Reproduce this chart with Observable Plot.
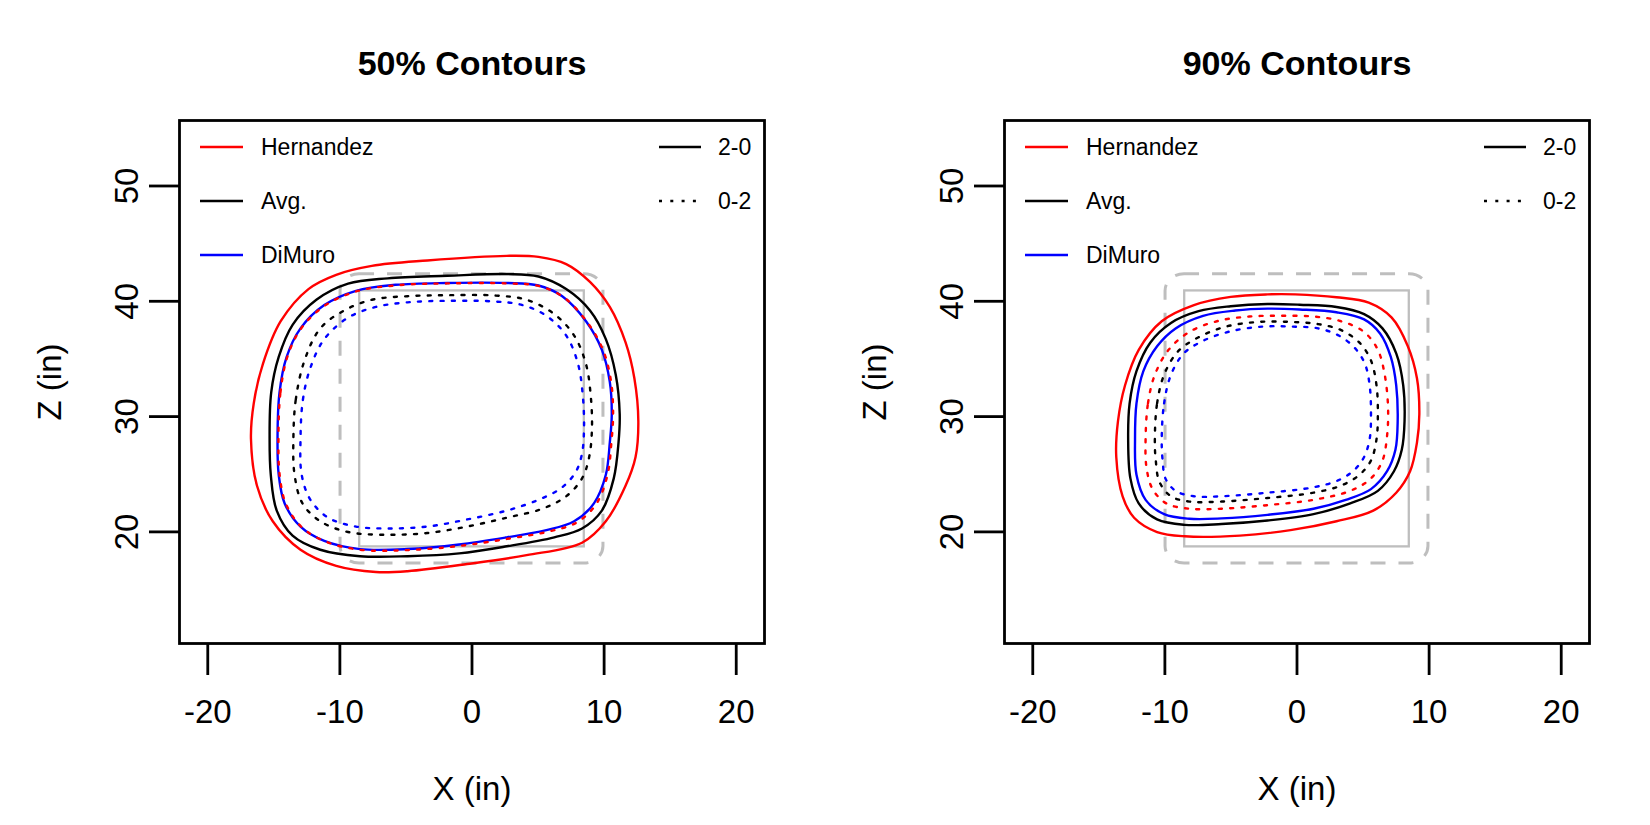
<!DOCTYPE html>
<html>
<head>
<meta charset="utf-8">
<script src="https://cdn.jsdelivr.net/npm/d3@7"></script>
<script src="https://cdn.jsdelivr.net/npm/@observablehq/plot@0.6"></script>
<style>
  html, body { margin: 0; padding: 0; background: #fff; }
  #wrap { display: flex; flex-direction: row; width: 1650px; height: 825px; }
  svg { font-family: "Liberation Sans", Arial, sans-serif; }
</style>
</head>
<body>
<div id="wrap"></div>
<script>
// ---------- data (inches; x = horizontal location, z = height) ----------
const panelTitles = ["50% Contours", "90% Contours"];
const pitchers = ["Hernandez", "Avg.", "DiMuro"];
const pitcherColors = ["#FF0000", "#000000", "#0000FF"];
const counts = ["2-0", "0-2"];
const xTicks = [-20, -10, 0, 10, 20];
const zTicks = [20, 30, 40, 50];
const xDomain = [-22.14, 22.14];
const zDomain = [10.32, 55.68];
const zoneX = [-8.5, 8.5];
const zoneZ = [18.7, 40.9];
const ballRadius = 1.45;

// 50% contours
const h50_20 = [[2.63,43.94],[5.03,43.85],[7.13,43.23],[8.93,41.68],[10.43,39.51],[11.63,36.41],[12.29,33.32],[12.59,29.60],[12.38,26.50],[11.63,24.02],[10.13,20.92],[8.33,19.06],[4.13,17.98],[-0.37,17.21],[-4.88,16.59],[-7.28,16.52],[-10.28,17.05],[-12.98,18.45],[-15.08,20.92],[-16.28,24.02],[-16.73,28.05],[-16.52,31.15],[-15.83,34.55],[-14.48,38.27],[-12.38,41.06],[-10.28,42.30],[-7.58,43.07],[-3.38,43.54]];
const a50_20 = [[-15.32,28.05],[-15.20,32.08],[-14.63,35.17],[-13.58,37.96],[-11.78,40.13],[-9.38,41.53],[-6.38,41.99],[-1.87,42.21],[2.63,42.36],[5.03,42.15],[7.13,41.06],[8.93,39.20],[10.13,36.72],[10.88,33.63],[11.18,30.22],[11.09,27.74],[10.73,24.64],[9.83,21.85],[8.33,20.30],[6.23,19.53],[2.63,18.75],[-0.97,18.14],[-4.88,17.89],[-8.48,17.89],[-11.48,18.45],[-13.58,19.68],[-14.78,21.85],[-15.23,24.95]];
const d50_20 = [[-14.72,28.05],[-14.57,32.08],[-14.03,35.17],[-12.98,37.65],[-11.18,39.67],[-8.78,40.91],[-5.78,41.43],[-1.87,41.59],[2.63,41.59],[5.03,41.37],[6.83,40.44],[8.63,38.27],[9.83,35.79],[10.43,33.01],[10.58,30.22],[10.43,27.74],[10.13,24.95],[9.23,22.47],[7.73,20.92],[5.63,20.15],[2.63,19.53],[-0.97,18.91],[-4.88,18.51],[-8.48,18.51],[-11.18,19.22],[-12.98,20.46],[-14.18,22.47],[-14.63,24.95]];
const h50_02 = [[-14.65,28.05],[-14.50,32.08],[-13.98,35.17],[-12.95,37.62],[-11.15,39.62],[-8.75,40.86],[-5.78,41.38],[-1.87,41.55],[2.63,41.55],[5.03,41.33],[6.88,40.40],[8.70,38.22],[9.93,35.75],[10.53,33.00],[10.68,30.22],[10.55,27.74],[10.25,24.90],[9.38,22.38],[7.90,20.80],[5.75,20.02],[2.70,19.40],[-0.97,18.78],[-4.88,18.42],[-8.48,18.45],[-11.12,19.18],[-12.92,20.44],[-14.10,22.47],[-14.56,24.95]];
const a50_02 = [[-13.52,28.05],[-13.34,31.46],[-12.68,34.86],[-11.48,37.65],[-9.68,39.20],[-7.58,40.13],[-4.88,40.44],[-1.87,40.53],[1.73,40.50],[4.13,40.13],[6.23,38.89],[7.73,37.03],[8.63,34.55],[8.99,31.77],[9.08,28.98],[8.87,26.50],[8.33,24.64],[7.13,23.09],[5.33,22.01],[2.63,21.23],[-0.37,20.46],[-3.38,19.90],[-6.38,19.75],[-9.38,19.99],[-11.48,20.92],[-12.83,22.47],[-13.43,24.95]];
const d50_02 = [[-12.98,28.05],[-12.80,31.46],[-12.23,34.24],[-11.18,36.72],[-9.38,38.58],[-7.28,39.51],[-4.88,39.91],[-1.87,40.04],[1.73,39.98],[3.83,39.67],[5.63,38.74],[7.13,37.03],[8.03,34.55],[8.39,31.77],[8.48,28.98],[8.33,26.81],[7.88,25.26],[6.83,23.87],[5.03,22.78],[2.63,21.85],[-0.37,21.08],[-3.38,20.46],[-6.38,20.30],[-8.78,20.46],[-10.88,21.23],[-12.23,22.78],[-12.89,24.95]];

// 90% contours
const h90_20 = [[-13.68,26.50],[-13.55,29.60],[-13.02,32.70],[-11.98,35.79],[-10.24,38.27],[-7.80,39.67],[-5.02,40.38],[-2.23,40.60],[-0.14,40.60],[2.99,40.35],[5.43,39.88],[7.17,38.58],[8.39,36.10],[9.08,33.32],[9.26,30.22],[9.08,27.74],[8.56,25.26],[7.51,23.40],[5.77,21.85],[2.99,20.92],[-0.49,20.15],[-4.32,19.68],[-8.50,19.62],[-10.59,19.99],[-12.33,21.23],[-13.20,23.09]];
const a90_20 = [[-12.78,28.05],[-12.67,31.15],[-12.15,33.94],[-11.11,36.41],[-9.54,38.12],[-7.45,39.14],[-5.02,39.57],[-2.23,39.76],[0.20,39.70],[2.99,39.51],[5.08,38.89],[6.47,37.65],[7.51,35.48],[8.04,32.70],[8.14,29.60],[7.93,27.12],[7.34,25.26],[6.12,23.56],[4.03,22.47],[1.25,21.54],[-2.23,20.99],[-5.71,20.68],[-8.50,20.61],[-10.59,21.08],[-11.98,22.47],[-12.61,24.64]];
const d90_20 = [[-12.26,28.05],[-12.15,31.15],[-11.63,33.94],[-10.59,36.10],[-9.19,37.65],[-7.11,38.74],[-4.67,39.20],[-2.23,39.36],[0.20,39.29],[2.99,39.05],[5.08,38.43],[6.30,37.19],[7.10,35.17],[7.51,32.70],[7.62,29.60],[7.45,27.12],[6.82,25.26],[5.60,23.71],[3.69,22.78],[1.25,22.01],[-2.23,21.48],[-5.71,21.17],[-8.15,21.14],[-10.06,21.54],[-11.46,22.78],[-12.15,24.95]];
const h90_02 = [[-11.46,28.05],[-11.28,31.15],[-10.76,33.63],[-9.72,35.79],[-8.15,37.34],[-6.06,38.27],[-3.62,38.68],[-1.19,38.74],[1.25,38.68],[3.34,38.27],[5.08,37.34],[6.12,35.79],[6.64,33.63],[6.89,30.84],[6.82,28.36],[6.47,26.19],[5.60,24.64],[4.03,23.56],[1.25,22.78],[-2.23,22.32],[-5.71,22.01],[-8.15,22.01],[-9.89,22.47],[-10.93,23.71],[-11.39,25.57]];
const a90_02 = [[-10.76,28.05],[-10.59,31.15],[-10.06,33.63],[-9.02,35.64],[-7.45,36.88],[-5.36,37.81],[-2.93,38.21],[-0.49,38.21],[1.60,38.02],[3.34,37.50],[4.73,36.41],[5.60,34.86],[6.02,32.70],[6.12,30.22],[6.02,28.05],[5.60,26.19],[4.73,24.95],[3.34,24.02],[1.25,23.40],[-2.23,22.94],[-5.71,22.63],[-8.15,22.63],[-9.54,23.09],[-10.41,24.33],[-10.69,26.19]];
const d90_02 = [[-10.24,28.05],[-10.06,31.15],[-9.54,33.63],[-8.57,35.48],[-7.11,36.57],[-5.02,37.40],[-2.58,37.81],[-0.49,37.81],[1.60,37.65],[3.16,37.03],[4.38,35.95],[5.15,34.55],[5.50,32.70],[5.60,30.22],[5.50,28.05],[5.08,26.50],[4.38,25.42],[3.16,24.49],[1.25,23.87],[-2.23,23.40],[-5.71,23.09],[-7.80,23.09],[-9.19,23.56],[-9.96,24.64],[-10.17,26.19]];

// ---------- build tables ----------
function rows(points, pitcher, count) {
  return points.map(([x, z]) => ({x, z, pitcher, count}));
}
const panels = [
  {title: panelTitles[0], curves: [
    rows(h50_20, "Hernandez", "2-0"), rows(a50_20, "Avg.", "2-0"), rows(d50_20, "DiMuro", "2-0"),
    rows(h50_02, "Hernandez", "0-2"), rows(a50_02, "Avg.", "0-2"), rows(d50_02, "DiMuro", "0-2")]},
  {title: panelTitles[1], curves: [
    rows(h90_20, "Hernandez", "2-0"), rows(a90_20, "Avg.", "2-0"), rows(d90_20, "DiMuro", "2-0"),
    rows(h90_02, "Hernandez", "0-2"), rows(a90_02, "Avg.", "0-2"), rows(d90_02, "DiMuro", "0-2")]}
];

const zone = [{x1: zoneX[0], x2: zoneX[1], y1: zoneZ[0], y2: zoneZ[1]}];
const zoneBall = [{x1: zoneX[0] - ballRadius, x2: zoneX[1] + ballRadius, y1: zoneZ[0] - ballRadius, y2: zoneZ[1] + ballRadius}];

const LW = 2.4;      // contour lines
const FW = 2.8;      // frame and ticks
const DOT = "3,8.3";
const FS = 33;
const W = 825, H = 825;
const M = {top: 120, right: 61, bottom: 182, left: 179};

function makePanel(p) {
  const solid = p.curves.filter(c => c[0].count === "2-0");
  const dotted = p.curves.filter(c => c[0].count === "0-2");
  const marks = [
    Plot.rect(zone, {x1: "x1", x2: "x2", y1: "y1", y2: "y2", fill: "none", stroke: "#BEBEBE", strokeWidth: 2.3}),
    Plot.rect(zoneBall, {x1: "x1", x2: "x2", y1: "y1", y2: "y2", fill: "none", stroke: "#BEBEBE", strokeWidth: 3, strokeDasharray: "15,13", rx: 19, ry: 17}),
  ];
  for (const c of solid) {
    marks.push(Plot.line(c, {x: "x", y: "z", stroke: "pitcher", strokeWidth: LW, curve: "catmull-rom-closed"}));
  }
  for (const c of dotted) {
    marks.push(Plot.line(c, {x: "x", y: "z", stroke: "pitcher", strokeWidth: LW, strokeDasharray: DOT, curve: "catmull-rom-closed"}));
  }
  marks.push(
    Plot.frame({stroke: "#000", strokeWidth: FW}),
    Plot.axisX({ticks: xTicks, tickSize: 32, tickPadding: 24, tickFormat: d => String(d), fontSize: FS, strokeWidth: FW, label: null}),
    Plot.axisY({ticks: zTicks, tickSize: 30, tickFormat: () => "", strokeWidth: FW, label: null}),
    Plot.text(zTicks, {y: d => d, text: d => String(d), frameAnchor: "left", dx: -42, rotate: -90, textAnchor: "middle", lineAnchor: "bottom", fontSize: FS, fill: "#000"}),
    Plot.text(["Z (in)"], {text: d => d, frameAnchor: "left", dx: -119, rotate: -90, textAnchor: "middle", lineAnchor: "bottom", fontSize: FS, fill: "#000"}),
    Plot.text(["X (in)"], {text: d => d, frameAnchor: "bottom", dy: 156, textAnchor: "middle", lineAnchor: "bottom", fontSize: FS, fill: "#000"}),
    Plot.text([p.title], {text: d => d, frameAnchor: "top", dy: -46, textAnchor: "middle", lineAnchor: "bottom", fontSize: 34, fontWeight: "bold", fill: "#000"})
  );
  const svg = Plot.plot({
    width: W, height: H,
    marginTop: M.top, marginRight: M.right, marginBottom: M.bottom, marginLeft: M.left,
    x: {domain: xDomain, axis: null},
    y: {domain: zDomain, axis: null},
    color: {domain: pitchers, range: pitcherColors},
    style: {fontFamily: "'Liberation Sans', Arial, sans-serif", fontSize: FS + "px", background: "#fff", color: "#000", overflow: "visible"},
    marks
  });

  // legend (layout only)
  const g = d3.select(svg).append("g").attr("font-size", 23).attr("fill", "#000").attr("text-anchor", "start");
  const rowsY = [147, 201, 255];
  pitchers.forEach((name, i) => {
    g.append("line").attr("x1", 200).attr("x2", 243).attr("y1", rowsY[i]).attr("y2", rowsY[i])
      .attr("stroke", pitcherColors[i]).attr("stroke-width", LW);
    g.append("text").attr("x", 261).attr("y", rowsY[i]).attr("dy", "0.35em").attr("text-anchor", "start").text(name);
  });
  counts.forEach((name, i) => {
    g.append("line").attr("x1", 659).attr("x2", 701).attr("y1", rowsY[i]).attr("y2", rowsY[i])
      .attr("stroke", "#000").attr("stroke-width", LW).attr("stroke-dasharray", i === 0 ? null : DOT);
    g.append("text").attr("x", 718).attr("y", rowsY[i]).attr("dy", "0.35em").attr("text-anchor", "start").text(name);
  });
  return svg;
}

const wrap = document.getElementById("wrap");
for (const p of panels) wrap.appendChild(makePanel(p));
</script>
</body>
</html>
